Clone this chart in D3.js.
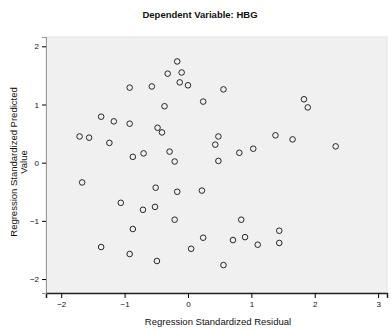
<!DOCTYPE html>
<html>
<head>
<meta charset="utf-8">
<script src="https://cdn.jsdelivr.net/npm/d3@7"></script>
<style>
  body { margin: 0; background: #fff; }
  text { font-family: "Liberation Sans", Arial, sans-serif; fill: #111; }
</style>
</head>
<body>
<div id="chart"></div>
<script>
// standardized residual (x) and standardized predicted value (y)
const residual = [
  -0.17, -0.32, -0.10, -0.13, 0.00, -0.92, -0.57, 0.24, -0.37, 0.56,
  1.83, 1.89, -1.37, -1.17, -0.92, -0.48, -0.41, -1.71, -1.56, -1.24,
  0.48, 0.43, 1.38, 1.65, 0.81, 1.03, 2.33, -0.87, -0.70, -0.29,
  -0.21, 0.48, -1.67, -0.51, -0.17, 0.22, -1.06, -0.71, -0.52, -0.21,
  -0.87, 0.24, 0.05, -1.37, -0.92, -0.49, 0.84, 0.71, 0.90, 1.10,
  1.44, 1.44, 0.56
];
const predicted = [
  1.74, 1.53, 1.55, 1.38, 1.33, 1.29, 1.31, 1.05, 0.97, 1.26,
  1.09, 0.95, 0.79, 0.71, 0.67, 0.60, 0.52, 0.45, 0.43, 0.34,
  0.45, 0.31, 0.47, 0.40, 0.17, 0.24, 0.28, 0.10, 0.16, 0.19,
  0.02, 0.03, -0.34, -0.43, -0.50, -0.48, -0.69, -0.81, -0.76, -0.98,
  -1.14, -1.29, -1.48, -1.45, -1.57, -1.69, -0.98, -1.33, -1.28, -1.41,
  -1.17, -1.38, -1.76
];
const xTicks = [-2, -1, 0, 1, 2, 3];
const yTicks = [-2, -1, 0, 1, 2];

const width = 392;
const height = 331;
const plot = { left: 46, top: 37, right: 387, bottom: 293 };

const svg = d3.select('#chart').append('svg')
  .attr('width', width)
  .attr('height', height);

/* Scale */
const xScale = d3.scaleLinear()
  .domain([-2.24, 3.14])
  .range([plot.left, plot.right]);
const yScale = d3.scaleLinear()
  .domain([-2.24, 2.16])
  .range([plot.bottom, plot.top]);

// plot background
svg.append('rect')
  .attr('x', plot.left)
  .attr('y', plot.top)
  .attr('width', plot.right - plot.left)
  .attr('height', plot.bottom - plot.top)
  .attr('fill', '#f0f0f0')
  .attr('stroke', '#e2e2e2');

/* Axes */
const xAxis = d3.axisBottom(xScale).tickValues(xTicks).tickFormat(d3.format('d'))
  .tickSize(5).tickPadding(3);
const yAxis = d3.axisLeft(yScale).tickValues(yTicks).tickFormat(d3.format('d'))
  .tickSize(4).tickPadding(3);

svg.append('g')
  .attr('class', 'xaxis')
  .attr('transform', `translate(0, ${plot.bottom})`)
  .call(xAxis)
  .call(g => g.select('.domain').attr('stroke', '#222').attr('stroke-width', 1.5));

svg.append('g')
  .attr('class', 'yaxis')
  .attr('transform', `translate(${plot.left}, 0)`)
  .call(yAxis)
  .call(g => g.select('.domain').attr('stroke', '#999'));

svg.selectAll('.tick text')
  .style('font-size', '8px');

/* Points */
const points = residual.map((r, i) => ({ x: r, y: predicted[i] }));
svg.append('g')
  .selectAll('circle')
  .data(points).enter()
  .append('circle')
  .attr('cx', d => xScale(d.x))
  .attr('cy', d => yScale(d.y))
  .attr('r', 2.8)
  .attr('fill', 'none')
  .attr('stroke', '#111')
  .attr('stroke-width', 0.9);

/* Titles */
svg.append('text')
  .attr('x', 200)
  .attr('y', 18)
  .attr('text-anchor', 'middle')
  .style('font-size', '9.5px')
  .style('font-weight', 'bold')
  .text('Dependent Variable: HBG');

svg.append('text')
  .attr('x', 218)
  .attr('y', 325)
  .attr('text-anchor', 'middle')
  .style('font-size', '9.5px')
  .text('Regression Standardized Residual');

const yLabel = svg.append('text')
  .attr('transform', 'translate(17, 162) rotate(-90)')
  .attr('text-anchor', 'middle')
  .style('font-size', '9.5px');
yLabel.append('tspan').attr('x', 0).attr('dy', 0).text('Regression Standardized Predicted');
yLabel.append('tspan').attr('x', 0).attr('dy', 10).text('Value');
</script>
</body>
</html>
